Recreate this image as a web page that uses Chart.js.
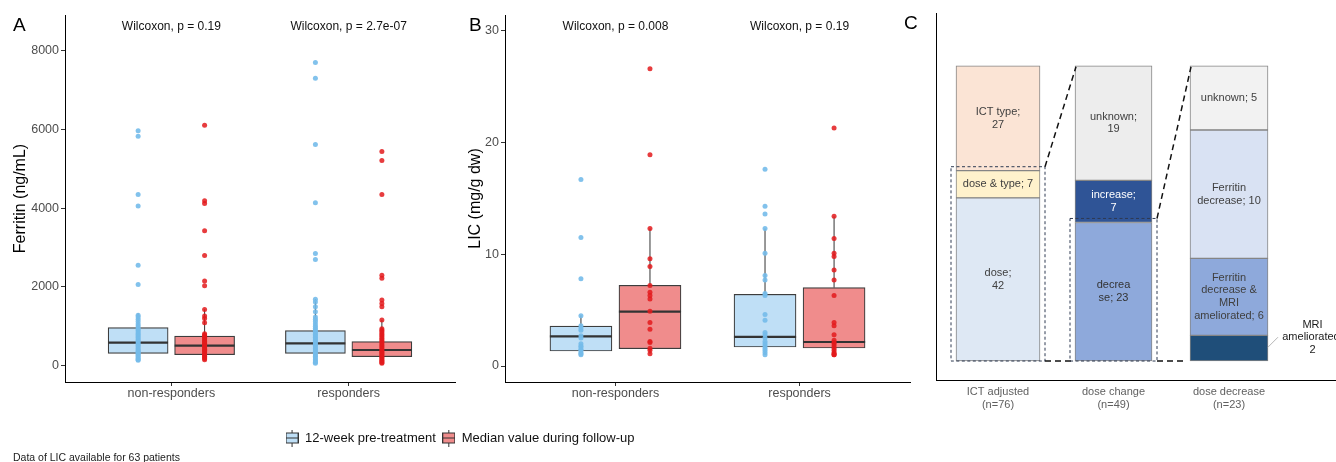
<!DOCTYPE html>
<html><head><meta charset="utf-8">
<script src="https://cdn.jsdelivr.net/npm/chart.js@4.4.1/dist/chart.umd.min.js"></script>
<style>
html,body{margin:0;padding:0;background:#fff;width:1336px;height:462px;overflow:hidden;position:relative;}
canvas{position:absolute;}
#caption{position:absolute;left:13px;top:451px;font:10.5px 'Liberation Sans',Arial,sans-serif;color:#222;white-space:nowrap;}
</style></head><body>
<canvas id="cA" width="460" height="420" style="left:0;top:0"></canvas>
<canvas id="cB" width="455" height="420" style="left:460px;top:0"></canvas>
<canvas id="cC" width="436" height="420" style="left:900px;top:0"></canvas>
<canvas id="cL" width="920" height="80" style="left:0;top:425px"></canvas>
<div id="caption">Data of LIC available for 63 patients</div>
<script>
// ---------------- DATA ----------------
const categoriesAB = ['non-responders', 'responders'];
const seriesNames = ['12-week pre-treatment', 'Median value during follow-up'];

// Panel A: ferritin (ng/mL); box stats = [lower whisker, Q1, median, Q3, upper whisker] per category
const ferritinTicks = [0, 2000, 4000, 6000, 8000];
const ferritinPreBox  = [[144, 315, 584, 965, 1330], [60, 315, 568, 889, 1693]];
const ferritinPostBox = [[144, 279, 508, 754, 1431], [60, 229, 399, 610, 1160]];
const ferritinPrePtsNR  = [5970, 5825, 4345, 4055, 2550, 2060, 1280, 1240, 1180, 1120, 1060, 1010, 960, 920, 880, 840, 800, 760, 720, 680, 640, 600, 560, 520, 480, 440, 400, 370, 340, 310, 280, 250, 220, 190, 160, 140];
const ferritinPostPtsNR = [6110, 4190, 4120, 3430, 2800, 2150, 2030, 1430, 1260, 1200, 1090, 810, 780, 750, 720, 690, 660, 630, 600, 570, 540, 510, 480, 450, 420, 390, 360, 330, 300, 270, 240, 210, 180, 150];
const ferritinPrePtsR   = [7700, 7300, 5620, 4140, 2850, 2700, 1690, 1620, 1500, 1370, 1240, 1180, 1120, 1060, 1000, 950, 900, 850, 800, 760, 720, 680, 640, 600, 560, 520, 480, 440, 400, 360, 320, 280, 240, 200, 160, 120, 90, 60];
const ferritinPostPtsR  = [5440, 5210, 4350, 2300, 2220, 1670, 1580, 1500, 1160, 940, 900, 860, 820, 780, 740, 700, 660, 620, 580, 540, 500, 460, 420, 380, 350, 320, 290, 260, 230, 200, 170, 140, 110, 80, 60];
const ferritinPLabels = ['Wilcoxon, p = 0.19', 'Wilcoxon, p = 2.7e-07'];

// Panel B: LIC (mg/g dw)
const licTicks = [0, 10, 20, 30];
const licPreBox  = [[1.0, 1.34, 2.66, 3.58, 4.54], [1.0, 1.70, 2.60, 6.42, 12.3]];
const licPostBox = [[1.1, 1.55, 4.87, 7.22, 12.3], [1.0, 1.61, 2.15, 7.01, 13.4]];
const licPrePtsNR  = [16.7, 11.5, 7.8, 4.5, 3.6, 3.4, 3.2, 2.7, 2.5, 2.0, 1.8, 1.7, 1.5, 1.4, 1.2, 1.1, 1.0];
const licPostPtsNR = [26.6, 18.9, 12.3, 9.6, 8.9, 7.2, 6.6, 6.3, 6.0, 4.9, 3.9, 3.3, 2.2, 2.1, 1.6, 1.4, 1.1];
const licPrePtsR   = [17.6, 14.3, 13.6, 12.3, 10.1, 8.1, 7.7, 6.5, 6.3, 4.6, 4.1, 3.0, 2.8, 2.5, 2.2, 2.0, 1.8, 1.6, 1.4, 1.2, 1.0];
const licPostPtsR  = [21.3, 13.4, 11.4, 10.1, 9.8, 8.6, 7.7, 6.3, 3.9, 3.6, 2.8, 2.3, 2.1, 2.0, 1.8, 1.6, 1.4, 1.2, 1.1, 1.0, 1.0];
const licPLabels = ['Wilcoxon, p = 0.008', 'Wilcoxon, p = 0.19'];

// Panel C: 100% stacked bars (segments bottom -> top)
const cCategories = ['ICT adjusted', 'dose change', 'dose decrease'];
const cTotals = [76, 49, 23];
const cSegValues = [[42, 7, 27], [23, 7, 19], [2, 6, 10, 5]];
const cSegText = [
  [['dose;', '42'], ['dose & type; 7'], ['ICT type;', '27']],
  [['decrea', 'se; 23'], ['increase;', '7'], ['unknown;', '19']],
  [[], ['Ferritin', 'decrease &', 'MRI', 'ameliorated; 6'], ['Ferritin', 'decrease; 10'], ['unknown; 5']]
];
const cOutsideText = ['MRI', 'ameliorated;', '2'];
const cZoomCount = [2, 1]; // bottom segments of a bar that are expanded into the next bar

// ---------------- STYLE ----------------
const FONT = "'Liberation Sans', Arial, Helvetica, sans-serif";
Chart.defaults.font.family = FONT;
const boxFills = ['#BFDFF6', '#F08C8C'];
const pointColors = ['rgba(116,187,234,0.9)', 'rgba(227,26,28,0.85)'];
const cSegColors = [['#DEE8F4', '#FFF2CC', '#FBE4D5'], ['#8EA9DB', '#2F5496', '#EDEDED'], ['#1F4E79', '#8EA9DB', '#D9E2F3', '#F2F2F2']];
const cTextColors = [['#404040', '#404040', '#404040'], ['#333333', '#ffffff', '#404040'], ['#ffffff', '#404040', '#404040', '#404040']];
const cBarWidths = [84, 77, 78];

// ---------------- PANELS A & B ----------------
const abText = {
  id: 'abText',
  afterDraw(chart, args, opts) {
    const ctx = chart.ctx, x = chart.scales.x;
    ctx.save();
    ctx.fillStyle = '#111'; ctx.textAlign = 'center'; ctx.textBaseline = 'middle';
    ctx.font = '12px ' + FONT;
    opts.pLabels.forEach((t, i) => ctx.fillText(t, x.getPixelForValue(i + 1), chart.chartArea.top + 12));
    ctx.fillStyle = '#000'; ctx.textAlign = 'left';
    ctx.font = '19px ' + FONT;
    ctx.fillText(opts.letter, opts.letterX, 26);
    ctx.restore();
  }
};

function boxDatasets(preBox, postBox, prePts, postPts, boxPx) {
  const dodge = 0.1875, half = 0.16875;
  const groups = [
    {boxes: preBox, pts: prePts, off: -dodge, k: 0},
    {boxes: postBox, pts: postPts, off: dodge, k: 1}
  ];
  const ds = [];
  groups.forEach(g => {
    const whisk = [], med = [], box = [], pts = [];
    g.boxes.forEach((b, ci) => {
      const x = ci + 1 + g.off;
      whisk.push({x, y: b[0]}, {x, y: b[1]}, {x, y: null}, {x, y: b[3]}, {x, y: b[4]}, {x, y: null});
      med.push({x: x - half, y: b[2]}, {x: x + half, y: b[2]}, {x: x + half, y: null});
      box.push({x, y: [b[1], b[3]]});
      g.pts[ci].forEach(v => pts.push({x, y: v}));
    });
    ds.push({type: 'line', label: 'w' + g.k, data: whisk, borderColor: '#333', borderWidth: 1, pointRadius: 0, spanGaps: false, order: 4});
    ds.push({type: 'bar', label: seriesNames[g.k], data: box, backgroundColor: boxFills[g.k], borderColor: '#3d3d3d', borderWidth: 1.2, borderSkipped: false, barThickness: boxPx, grouped: false, order: 3});
    ds.push({type: 'line', label: 'm' + g.k, data: med, borderColor: '#333', borderWidth: 2.2, pointRadius: 0, spanGaps: false, order: 2});
    ds.push({type: 'scatter', label: 'p' + g.k, data: pts, backgroundColor: pointColors[g.k], borderWidth: 0, pointRadius: 2.5, order: 1});
  });
  return ds;
}

function axisCommon() {
  return {
    grid: {display: true, offset: false, drawOnChartArea: false, drawTicks: true, tickLength: 4, color: '#333', tickColor: '#333'},
    border: {display: true, color: '#000', width: 1}
  };
}

function boxChart(id, opts) {
  return new Chart(document.getElementById(id), {
    type: 'bar',
    data: {datasets: boxDatasets(opts.preBox, opts.postBox, opts.prePts, opts.postPts, opts.boxPx)},
    options: {
      responsive: false, animation: false, devicePixelRatio: 1, events: [],
      layout: {padding: {top: 15, right: 5, left: 0, bottom: 0}},
      plugins: {legend: {display: false}, tooltip: {enabled: false},
        abText: {pLabels: opts.pLabels, letter: opts.letter, letterX: opts.letterX}},
      scales: {
        x: Object.assign(axisCommon(), {
          type: 'linear', min: 0.4, max: 2.6, offset: false,
          afterBuildTicks: s => { s.ticks = categoriesAB.map((c, i) => ({value: i + 1})); },
          afterFit: s => { s.height = 38; },
          ticks: {callback: v => categoriesAB[Math.round(v) - 1], color: '#4d4d4d', font: {size: 12.5}, padding: 0, autoSkip: false, maxRotation: 0}
        }),
        y: Object.assign(axisCommon(), {
          type: 'linear', min: opts.yMin, max: opts.yMax,
          afterBuildTicks: s => { s.ticks = opts.yTicks.map(v => ({value: v})); },
          afterFit: s => { s.width = opts.yWidth; },
          ticks: {callback: v => String(v), color: '#4d4d4d', font: {size: 12.5}, padding: 2},
          title: {display: true, text: opts.yTitle, color: '#000', font: {size: 16}, padding: {top: opts.titlePad, bottom: 0}}
        })
      }
    },
    plugins: [abText]
  });
}

boxChart('cA', {
  preBox: ferritinPreBox, postBox: ferritinPostBox,
  prePts: [ferritinPrePtsNR, ferritinPrePtsR], postPts: [ferritinPostPtsNR, ferritinPostPtsR],
  boxPx: 60, yMin: -414, yMax: 8907, yTicks: ferritinTicks, yWidth: 65, yTitle: 'Ferritin (ng/mL)', titlePad: 11,
  pLabels: ferritinPLabels, letter: 'A', letterX: 13
});
boxChart('cB', {
  preBox: licPreBox, postBox: licPostBox,
  prePts: [licPrePtsNR, licPrePtsR], postPts: [licPostPtsNR, licPostPtsR],
  boxPx: 62, yMin: -1.43, yMax: 31.41, yTicks: licTicks, yWidth: 45, yTitle: 'LIC (mg/g dw)', titlePad: 5.5,
  pLabels: licPLabels, letter: 'B', letterX: 9
});

// ---------------- PANEL C ----------------
const cDatasets = [];
const cIndex = [];
cSegValues.forEach((segs, b) => {
  cIndex.push([]);
  segs.forEach((v, s) => {
    cIndex[b].push(cDatasets.length);
    cDatasets.push({
      type: 'bar', label: cCategories[b] + ' ' + s,
      data: [{x: b + 1, y: v / cTotals[b] * 100}],
      backgroundColor: cSegColors[b][s], borderColor: '#858585', borderWidth: 1, borderSkipped: false,
      barThickness: cBarWidths[b], grouped: false,
      segText: cSegText[b][s], segTextColor: cTextColors[b][s]
    });
  });
});

const cAnnot = {
  id: 'cAnnot',
  afterDatasetsDraw(chart) {
    const ctx = chart.ctx;
    const el = di => chart.getDatasetMeta(di).data[0];
    ctx.save();
    ctx.textAlign = 'center'; ctx.textBaseline = 'middle';
    ctx.font = '11px ' + FONT;
    chart.data.datasets.forEach((ds, di) => {
      const e = el(di), lines = ds.segText;
      if (!lines || !lines.length) return;
      const cy = (e.y + e.base) / 2, lh = 12.8;
      ctx.fillStyle = ds.segTextColor;
      lines.forEach((t, k) => ctx.fillText(t, e.x, cy + (k - (lines.length - 1) / 2) * lh));
    });
    // zoom rectangles and connectors
    cZoomCount.forEach((cnt, b) => {
      const segs = cIndex[b].slice(0, cnt).map(el);
      const top = Math.min(...segs.map(e => e.y)), bottom = segs[0].base;
      const left = segs[0].x - segs[0].width / 2, right = segs[0].x + segs[0].width / 2;
      const nxt = cIndex[b + 1].map(el);
      const nTop = Math.min(...nxt.map(e => e.y)), nLeft = nxt[0].x - nxt[0].width / 2;
      ctx.setLineDash([3, 2.5]); ctx.strokeStyle = '#2e3a52'; ctx.lineWidth = 1;
      ctx.strokeRect(left - 5, top - 4, right - left + 10, bottom - top + 4);
      ctx.setLineDash([6, 4]); ctx.strokeStyle = '#111'; ctx.lineWidth = 1.5;
      ctx.beginPath();
      ctx.moveTo(right + 5, top - 4); ctx.lineTo(nLeft + 1, nTop + 1);
      ctx.moveTo(right + 5, bottom); ctx.lineTo(nLeft - 3, bottom);
      ctx.stroke();
    });
    // outside label for smallest segment
    const m = el(cIndex[2][0]);
    const r = m.x + m.width / 2, my = (m.y + m.base) / 2;
    ctx.setLineDash([]); ctx.strokeStyle = '#b5b5b5'; ctx.lineWidth = 1;
    ctx.beginPath(); ctx.moveTo(r, my - 1); ctx.lineTo(r + 10, my - 11); ctx.stroke();
    ctx.fillStyle = '#1a1a1a';
    cOutsideText.forEach((t, k) => ctx.fillText(t, r + 44.5, my - 11 + (k - 1) * 12.3));
    // panel letter
    ctx.textAlign = 'left'; ctx.fillStyle = '#000'; ctx.font = '19px ' + FONT;
    ctx.fillText('C', 4, 24);
    ctx.restore();
  }
};

new Chart(document.getElementById('cC'), {
  type: 'bar',
  data: {datasets: cDatasets},
  options: {
    responsive: false, animation: false, devicePixelRatio: 1, events: [],
    layout: {padding: {top: 13, right: 0, left: 0, bottom: 0}},
    plugins: {legend: {display: false}, tooltip: {enabled: false}},
    scales: {
      x: {
        type: 'linear', min: 0.4632, max: 3.9264, offset: false, stacked: true,
        afterBuildTicks: s => { s.ticks = cCategories.map((c, i) => ({value: i + 1})); },
        afterFit: s => { s.height = 40; },
        ticks: {callback: v => [cCategories[Math.round(v) - 1], '(n=' + cTotals[Math.round(v) - 1] + ')'],
          color: '#5f5f5f', font: {size: 11}, padding: 5.4, autoSkip: false, maxRotation: 0},
        grid: {display: false, drawTicks: false, offset: false},
        border: {display: true, color: '#000', width: 1}
      },
      y: {
        type: 'linear', min: -6.43, max: 117.9, stacked: true,
        afterFit: s => { s.width = 36; },
        ticks: {display: false},
        grid: {display: false, drawTicks: false},
        border: {display: true, color: '#000', width: 1}
      }
    }
  },
  plugins: [cAnnot]
});

// ---------------- LEGEND ----------------
function glyph(fill) {
  const c = document.createElement('canvas'); c.width = 13; c.height = 17;
  const g = c.getContext('2d');
  g.strokeStyle = '#333'; g.lineWidth = 1;
  g.beginPath(); g.moveTo(6.5, 0); g.lineTo(6.5, 3.5); g.moveTo(6.5, 13.5); g.lineTo(6.5, 17); g.stroke();
  g.fillStyle = fill; g.fillRect(0.5, 3.5, 12, 10); g.strokeRect(0.5, 3.5, 12, 10);
  g.beginPath(); g.moveTo(0.5, 8.5); g.lineTo(12.5, 8.5); g.stroke();
  return c;
}
const glyphs = boxFills.map(glyph);

new Chart(document.getElementById('cL'), {
  type: 'bar',
  data: {labels: [], datasets: seriesNames.map((n, i) => ({label: n, data: [], backgroundColor: boxFills[i]}))},
  options: {
    responsive: false, animation: false, devicePixelRatio: 1, events: [],
    layout: {padding: 0},
    scales: {x: {display: false}, y: {display: false}},
    plugins: {
      tooltip: {enabled: false},
      legend: {display: true, position: 'top', align: 'center',
        labels: {
          usePointStyle: true, boxWidth: 13, boxHeight: 13, padding: 6.5, color: '#111', font: {size: 13},
          generateLabels: chart => chart.data.datasets.map((d, i) => ({
            text: d.label, fillStyle: d.backgroundColor, strokeStyle: '#333', lineWidth: 1,
            pointStyle: glyphs[i], hidden: false, datasetIndex: i, fontColor: '#111'
          }))
        }
      }
    }
  }
});
</script>
</body></html>
